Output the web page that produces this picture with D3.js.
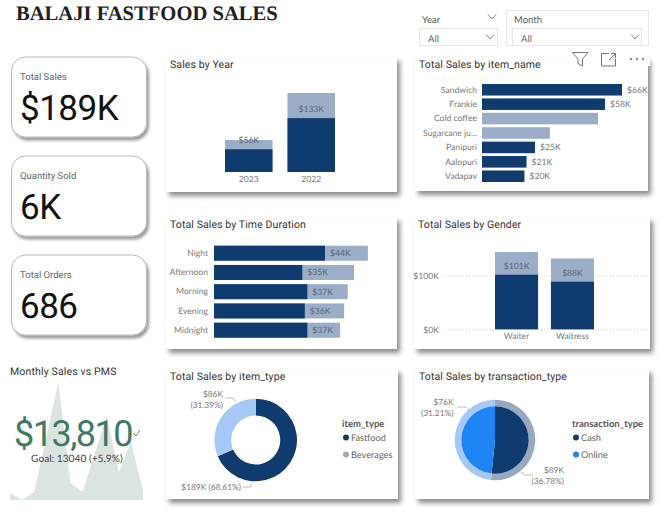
<!DOCTYPE html>
<html>
<head>
<meta charset="utf-8">
<script src="https://cdn.jsdelivr.net/npm/d3@7"></script>
<style>
    html, body { margin: 0; padding: 0; background: #fff; overflow: hidden; }
    text { font-family: Lato, sans-serif; text-rendering: geometricPrecision; }
    .din { font-family: Roboto, sans-serif; }
    .domain { display: none; }
</style>
</head>
<body>
<svg id="report" width="661" height="520"></svg>
<script>
const years = ['2023', '2022'];
const yearSales = [56, 133];
const yearTarget = [79, 195];

const itemNames = ['Sandwich', 'Frankie', 'Cold coffee', 'Sugarcane ju...', 'Panipuri', 'Aalopuri', 'Vadapav'];
const itemSales = [66, 58, 54.7, 32, 25, 21, 20];
const itemFaded = ['Cold coffee', 'Sugarcane ju...'];

const durations = ['Night', 'Afternoon', 'Morning', 'Evening', 'Midnight'];
const durationSales = [44, 35, 37, 36, 37];
const durationTarget = [61, 55.5, 53, 51.6, 50];

const genders = ['Waiter', 'Waitress'];
const genderSales = [101, 88];
const genderTarget = [143, 131];
const genderTicks = [0, 100];

const itemTypes = ['Fastfood', 'Beverages'];
const itemTypeShare = [68.61, 31.39];

const transactionTypes = ['Cash', 'Online'];
const transactionShare = [51.6, 48.4];

const months = ['Jan', 'Feb', 'Mar', 'Apr', 'May', 'Jun', 'Jul', 'Aug', 'Sep', 'Oct', 'Nov', 'Dec'];
const monthlySales = [13660, 13310, 13710, 16460, 19210, 14160, 13710, 15610, 17510, 14710, 16210, 13810];

const kpiLabels = ['Total Sales', 'Quantity Sold', 'Total Orders'];
const kpiValues = ['$189K', '6K', '686'];

const dark = '#0f3b6f';
const light = '#9aaec8';
const labelGrey = '#7a7a7a';
const k = v => `$${v}K`;

const svg = d3.select('#report');

const defs = svg.append('defs');
const shadow = (id, dx, dy, blur, op) => defs.append('filter').attr('id', id)
    .attr('x', '-10%').attr('y', '-10%').attr('width', '125%').attr('height', '125%')
    .append('feDropShadow')
    .attr('dx', dx).attr('dy', dy).attr('stdDeviation', blur)
    .attr('flood-color', '#000').attr('flood-opacity', op);
shadow('panelShadow', 3, 4, 2.4, 0.45);
shadow('cardShadow', 2, 3, 1.6, 0.4);

svg.append('text').text('BALAJI FASTFOOD SALES')
    .attr('x', 16).attr('y', 20)
    .style('font-family', '"Liberation Serif", serif')
    .style('font-weight', 'bold').style('font-size', '20.6px').attr('fill', '#1f1f1f');

// kpi cards
kpiLabels.forEach((label, i) => {
    const top = 57 + i * 99;
    svg.append('rect').attr('x', 11.5).attr('y', top).attr('width', 135).attr('height', 80).attr('rx', 14)
        .attr('fill', '#fff').attr('stroke', '#b9b9b9').attr('filter', 'url(#cardShadow)');
    svg.append('text').text(label).attr('x', 20).attr('y', top + 23)
        .attr('class', 'din').style('font-size', '9.5px').attr('fill', '#666');
    svg.append('text').text(kpiValues[i]).attr('x', 20).attr('y', top + 63)
        .attr('class', 'din').style('font-size', '35px').style('letter-spacing', '-0.5px').attr('fill', '#111');
});

const panel = (x, y, w, h, title) => {
    svg.append('rect').attr('x', x).attr('y', y).attr('width', w).attr('height', h)
        .attr('fill', '#fff').attr('filter', 'url(#panelShadow)');
    svg.append('text').text(title).attr('x', x + 4).attr('y', y + 11)
        .attr('class', 'din').style('font-size', '10.5px').style('letter-spacing', '0.1px').attr('fill', '#333');
    return svg.append('g');
};

const axisText = axis => axis.selectAll('text').style('font-size', '8.6px').attr('fill', labelGrey);

// Sales by Year
{
    const g = panel(166, 57, 231, 135, 'Sales by Year');
    const x = d3.scaleBand().domain(years).range([225, 335]).paddingInner(0.24);
    const y = d3.scaleLinear().domain([0, 195]).range([172, 93]);
    g.selectAll('.target').data(years).enter().append('rect')
        .attr('x', d => x(d)).attr('width', x.bandwidth())
        .attr('y', (d, i) => y(yearTarget[i])).attr('height', (d, i) => y(0) - y(yearTarget[i]))
        .attr('fill', light);
    g.selectAll('.sales').data(years).enter().append('rect')
        .attr('x', d => x(d)).attr('width', x.bandwidth())
        .attr('y', (d, i) => y(yearSales[i])).attr('height', (d, i) => y(0) - y(yearSales[i]))
        .attr('fill', dark);
    g.selectAll('.lab').data(years).enter().append('text')
        .attr('x', d => x(d) + x.bandwidth() / 2).attr('y', (d, i) => y(yearSales[i]) - 6)
        .attr('text-anchor', 'middle').style('font-size', '8.6px').attr('fill', '#5d6875')
        .text((d, i) => k(yearSales[i]));
    const ax = g.append('g').attr('transform', `translate(0,${y(0)})`)
        .call(d3.axisBottom(x).tickSize(0).tickPadding(4));
    axisText(ax);
}

// Total Sales by item_name
{
    const g = panel(415, 57, 233, 134, 'Total Sales by item_name');
    const y = d3.scaleBand().domain(itemNames).range([84, 182]).paddingInner(0.2);
    const x = d3.scaleLinear().domain([0, 66]).range([482, 622]);
    g.selectAll('.bar').data(itemNames).enter().append('rect')
        .attr('x', x(0)).attr('y', d => y(d)).attr('height', y.bandwidth())
        .attr('width', (d, i) => x(itemSales[i]) - x(0))
        .attr('fill', d => itemFaded.includes(d) ? light : dark);
    g.selectAll('.lab').data(itemNames.filter(d => !itemFaded.includes(d))).enter().append('text')
        .attr('x', d => x(itemSales[itemNames.indexOf(d)]) + 5)
        .attr('y', d => y(d) + y.bandwidth() / 2).attr('dy', '0.35em')
        .style('font-size', '8.6px').attr('fill', labelGrey)
        .text(d => k(itemSales[itemNames.indexOf(d)]));
    const ax = g.append('g').attr('transform', `translate(${x(0) - 1},0)`)
        .call(d3.axisLeft(y).tickSize(0).tickPadding(4));
    axisText(ax);
}

// Total Sales by Time Duration
{
    const g = panel(166, 217, 231, 132, 'Total Sales by Time Duration');
    const y = d3.scaleBand().domain(durations).range([245.7, 337.7]).paddingInner(0.22);
    const x = d3.scaleLinear().domain([0, 44]).range([214, 325]);
    g.selectAll('.target').data(durations).enter().append('rect')
        .attr('x', x(0)).attr('y', d => y(d)).attr('height', y.bandwidth())
        .attr('width', (d, i) => x(durationTarget[i]) - x(0)).attr('fill', light);
    g.selectAll('.sales').data(durations).enter().append('rect')
        .attr('x', x(0)).attr('y', d => y(d)).attr('height', y.bandwidth())
        .attr('width', (d, i) => x(durationSales[i]) - x(0)).attr('fill', dark);
    g.selectAll('.lab').data(durations).enter().append('text')
        .attr('x', (d, i) => x(durationSales[i]) + 5)
        .attr('y', d => y(d) + y.bandwidth() / 2).attr('dy', '0.35em')
        .style('font-size', '8.6px').attr('fill', '#5d6875')
        .text((d, i) => k(durationSales[i]));
    const ax = g.append('g').attr('transform', `translate(${x(0) - 1},0)`)
        .call(d3.axisLeft(y).tickSize(0).tickPadding(5));
    axisText(ax);
}

// Total Sales by Gender
{
    const g = panel(414, 217, 236, 132, 'Total Sales by Gender');
    const x = d3.scaleBand().domain(genders).range([495, 594]).paddingInner(0.23);
    const y = d3.scaleLinear().domain([0, 143]).range([329.3, 252]);
    const yAxis = g.append('g').attr('transform', 'translate(445,0)')
        .call(d3.axisLeft(y).tickValues(genderTicks).tickFormat(k).tickSize(-202).tickPadding(6));
    yAxis.selectAll('line').attr('stroke', '#c9c9c9').attr('stroke-dasharray', '1,2');
    axisText(yAxis);
    g.selectAll('.target').data(genders).enter().append('rect')
        .attr('x', d => x(d)).attr('width', x.bandwidth())
        .attr('y', (d, i) => y(genderTarget[i])).attr('height', (d, i) => y(0) - y(genderTarget[i]))
        .attr('fill', light);
    g.selectAll('.sales').data(genders).enter().append('rect')
        .attr('x', d => x(d)).attr('width', x.bandwidth())
        .attr('y', (d, i) => y(genderSales[i])).attr('height', (d, i) => y(0) - y(genderSales[i]))
        .attr('fill', dark);
    g.selectAll('.lab').data(genders).enter().append('text')
        .attr('x', d => x(d) + x.bandwidth() / 2).attr('y', (d, i) => y(genderSales[i]) - 6)
        .attr('text-anchor', 'middle').style('font-size', '8.6px').attr('fill', '#5d6875')
        .text((d, i) => k(genderSales[i]));
    const ax = g.append('g').attr('transform', `translate(0,${y(0)})`)
        .call(d3.axisBottom(x).tickSize(0).tickPadding(4));
    axisText(ax);
}

const slices = d3.pie().sort(null);
const leader = (g, pts) => g.append('path').attr('d', d3.line()(pts))
    .attr('fill', 'none').attr('stroke', '#bdbdbd');
const sliceLabel = (g, lines, x, y) => lines.forEach((t, i) => g.append('text').text(t)
    .attr('x', x).attr('y', y + i * 10.5).attr('text-anchor', 'end')
    .style('font-size', '8.4px').attr('fill', labelGrey));
const legend = (x, title, names, colors) => {
    svg.append('text').text(title).attr('x', x).attr('y', 427)
        .style('font-size', '9.5px').style('font-weight', 700).attr('fill', '#555');
    names.forEach((n, i) => {
        svg.append('circle').attr('cx', x + 4).attr('cy', 437.5 + i * 17).attr('r', 3).attr('fill', colors[i]);
        svg.append('text').text(n).attr('x', x + 9).attr('y', 441 + i * 17)
            .style('font-size', '9.2px').attr('fill', '#666');
    });
};

// Total Sales by item_type
{
    const g = panel(166, 369, 232, 130, 'Total Sales by item_type');
    const colors = d3.scaleOrdinal().domain(itemTypes).range([dark, '#a5c8f7']);
    const arc = d3.arc().innerRadius(24.5).outerRadius(41.3);
    g.append('g').attr('transform', 'translate(255.7,440)')
        .selectAll('path').data(slices(itemTypeShare)).enter().append('path')
        .attr('d', arc).attr('fill', (d, i) => colors(itemTypes[i]));
    leader(g, [[225, 398], [233, 398], [236, 402]]);
    leader(g, [[243, 487], [251, 487], [251, 483]]);
    sliceLabel(g, ['$86K', '(31.39%)'], 223, 397);
    sliceLabel(g, ['$189K (68.61%)'], 241, 490);
    legend(342, 'item_type', itemTypes, [dark, '#a8a8a8']);
}

// Total Sales by transaction_type
{
    const g = panel(415, 369, 234, 130, 'Total Sales by transaction_type');
    const pieArcs = slices(transactionShare);
    const ring = d3.arc().innerRadius(33.7).outerRadius(40.3);
    const inner = d3.arc().innerRadius(0).outerRadius(33.7);
    const c = g.append('g').attr('transform', 'translate(495,440)');
    c.selectAll('.ring').data(pieArcs).enter().append('path')
        .attr('d', ring).attr('fill', (d, i) => ['#95a9c0', '#a5c9f5'][i]);
    c.selectAll('.inner').data(pieArcs).enter().append('path')
        .attr('d', inner).attr('fill', (d, i) => [dark, '#1f85f5'][i]);
    leader(g, [[457, 407], [466, 407], [470, 411]]);
    leader(g, [[521, 472], [525, 475], [533, 475]]);
    sliceLabel(g, ['$76K', '(31.21%)'], 453.5, 405);
    sliceLabel(g, ['$89K', '(36.78%)'], 564, 473);
    legend(572, 'transaction_type', transactionTypes, [dark, '#1f85f5']);
}

// Monthly Sales vs PMS
{
    const x = d3.scalePoint().domain(months).range([10, 143]);
    const y = d3.scaleLinear().domain([13310, 19210]).range([500, 382]);
    const area = d3.area().x((d, i) => x(months[i])).y0(500).y1(d => y(d));
    svg.append('path').datum(monthlySales).attr('d', area).attr('fill', '#dbe5e0');
    svg.append('text').text('Monthly Sales vs PMS').attr('x', 10).attr('y', 375)
        .attr('class', 'din').style('font-size', '10.5px').style('letter-spacing', '0.15px').attr('fill', '#333');
    svg.append('text').text('$13,810').attr('x', 14).attr('y', 446)
        .attr('class', 'din').style('font-size', '36px').style('letter-spacing', '-1.5px').attr('fill', '#3d7a62');
    svg.append('path').attr('d', d3.line()([[133, 433], [136, 436], [140, 430]]))
        .attr('fill', 'none').attr('stroke', '#6f8f82');
    svg.append('text').text('Goal: 13040 (+5.9%)').attr('x', 31).attr('y', 462)
        .style('font-size', '10.2px').attr('fill', '#444');
}

// slicers
const chevron = (cx, cy) => svg.append('path')
    .attr('d', d3.line()([[cx - 4, cy - 2.5], [cx, cy + 2], [cx + 4, cy - 2.5]]))
    .attr('fill', 'none').attr('stroke', '#888');
const slicerText = (t, x, y, fill) => svg.append('text').text(t).attr('x', x).attr('y', y)
    .style('font-size', '9.5px').attr('fill', fill);
const box = (x, y, w, h) => svg.append('rect').attr('x', x).attr('y', y).attr('width', w).attr('height', h)
    .attr('fill', '#fff').attr('stroke', '#e6e6e6');

slicerText('Year', 422, 22.5, '#555');
chevron(492, 17);
box(419.5, 28.5, 78, 17);
slicerText('All', 428, 41.5, '#666');
chevron(490, 37);
box(506.5, 10.5, 142, 35);
slicerText('Month', 514, 22.5, '#555');
box(512.5, 28.5, 129, 17);
slicerText('All', 521, 41.5, '#666');
chevron(635, 37);

// visual header icons
svg.append('rect').attr('x', 568).attr('y', 49).attr('width', 82).attr('height', 17).attr('fill', '#fff');
svg.append('path').attr('d', 'M572.5,52.5H588L582.5,59V66L578,63.5V59Z').attr('fill', 'none').attr('stroke', '#777');
svg.append('path').attr('d', 'M609,53.5H601.5V66H615.5V59M609,60L615.5,53.5M611,53.5H615.5V58').attr('fill', 'none').attr('stroke', '#777');
svg.selectAll('.dot').data([631, 637, 643]).enter().append('circle')
    .attr('cx', d => d).attr('cy', 59).attr('r', 1).attr('fill', '#666');
</script>
</body>
</html>
